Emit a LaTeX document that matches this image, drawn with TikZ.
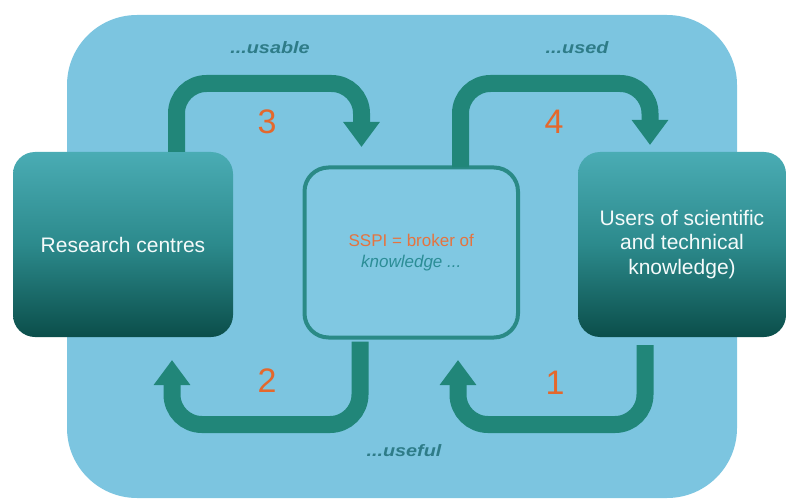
\documentclass[tikz,border=0pt]{standalone}
\usepackage{fontspec}
\setmainfont{Liberation Sans}
\newfontfamily\notefont[FakeStretch=1.2]{Liberation Sans}
\usetikzlibrary{arrows.meta}

\definecolor{panel}{HTML}{7CC5E0}
\definecolor{flowc}{HTML}{218679}
\definecolor{numc}{HTML}{E4682C}
\definecolor{labc}{HTML}{2E7C88}
\definecolor{boxtop}{HTML}{4AACB4}
\definecolor{boxmid}{HTML}{2C8A8C}
\definecolor{boxbot}{HTML}{0B4E4A}
\definecolor{brokerline}{HTML}{2A8A86}
\definecolor{brokerfill}{HTML}{80C8E2}
\definecolor{orangetext}{HTML}{E5733F}
\definecolor{tealtext}{HTML}{2B8D96}

\begin{document}
\begin{tikzpicture}[x=1pt,y=1pt,
  actor/.style={rounded corners=22pt, top color=boxtop, bottom color=boxbot,
    middle color=boxmid, inner sep=0pt, outer sep=0pt, minimum height=185pt,
    text=white!94!boxtop, align=center, font=\fontsize{21}{24.5}\selectfont},
  broker/.style={draw=brokerline, line width=4pt, fill=brokerfill,
    rounded corners=24pt, inner sep=0pt, outer sep=0pt,
    minimum width=213.5pt, minimum height=170pt, align=center,
    font=\fontsize{17}{21}\selectfont},
  flow/.style={draw=flowc, line width=17pt, rounded corners=30pt,
    -{Triangle[width=35pt,length=25pt]}},
  tag/.style={text=numc, inner sep=0pt, font=\fontsize{34}{34}\selectfont},
  note/.style={text=labc, inner sep=0pt,
    font=\notefont\fontsize{16.5}{16.5}\selectfont\bfseries\itshape}
]
\useasboundingbox (0,0) rectangle (787,499);

% light panel behind everything
\fill[panel, rounded corners=70pt] (67,1) rectangle (737,484);

% the three parties
\node[actor, minimum width=220pt] (rc) at (123,254.5) {Research centres};
\node[actor, minimum width=208pt] (us) at (682,254.5)
  {Users of scientific\\and technical\\knowledge)};
\node[broker] (ssp) at (411.25,246.5)
  {\textcolor{orangetext}{SSPI = broker of}\\
   \textcolor{tealtext}{\itshape knowledge ...}};

% knowledge flows
\draw[flow] ([xshift=53.5pt]rc.north)
  |- ([xshift=-49.75pt,yshift=84pt]ssp.north)
  -- ([xshift=-49.75pt,yshift=20.5pt]ssp.north);
\draw[flow] ([xshift=49.25pt]ssp.north)
  |- ([xshift=-32pt,yshift=68.5pt]us.north)
  -- ([xshift=-32pt,yshift=7pt]us.north);
\draw[flow] ([xshift=-51.25pt,yshift=-4pt]ssp.south)
  |- ([xshift=49pt,yshift=-87.5pt]rc.south)
  -- ([xshift=49pt,yshift=-23pt]rc.south);
\draw[flow] ([xshift=-37pt,yshift=-8pt]us.south)
  |- ([xshift=46.75pt,yshift=-87pt]ssp.south)
  -- ([xshift=46.75pt,yshift=-22.5pt]ssp.south);

% step numbers
\node[tag] (n3) at (267,377) {3};
\node[tag] (n4) at (554,377) {4};
\node[tag] (n2) at (267,118) {2};
\node[tag] (n1) at (555,116) {1};

% flow qualities
\node[note] (q3) at (270,451.5) {...usable};
\node[note] (q4) at (577,451) {...used};
\node[note] (q2) at (404,48) {...useful};
\end{tikzpicture}
\end{document}
